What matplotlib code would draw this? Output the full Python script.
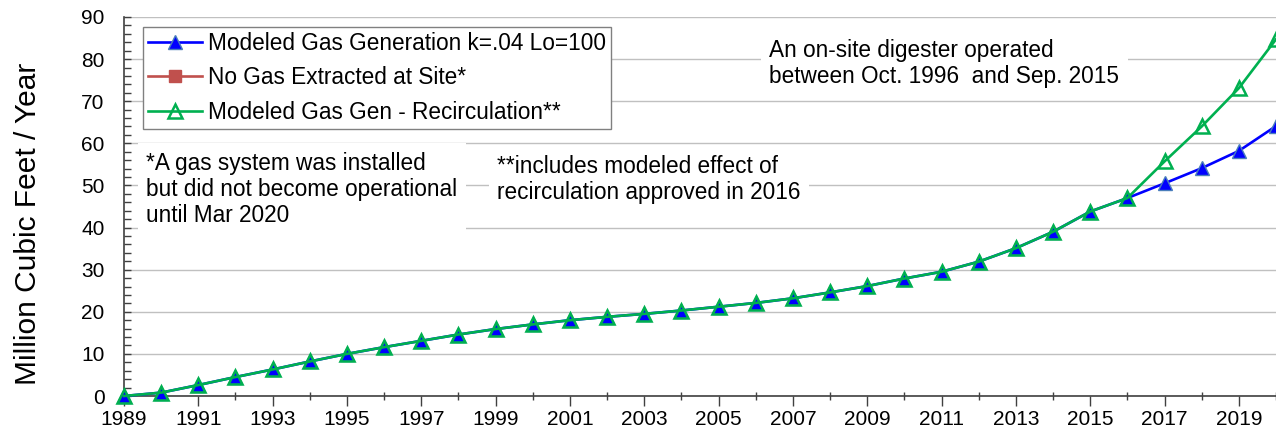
import matplotlib
matplotlib.use("Agg")
import matplotlib.pyplot as plt
from matplotlib.ticker import MultipleLocator

plt.rcParams['font.family'] = ['Liberation Sans', 'DejaVu Sans']

years = list(range(1989, 2021))
modeled = [0.0, 0.8, 2.6, 4.5, 6.3, 8.2, 10.0, 11.6, 13.1, 14.6, 15.9, 17.0,
           18.0, 18.8, 19.5, 20.3, 21.2, 22.1, 23.2, 24.6, 26.1, 27.9, 29.5,
           31.9, 35.1, 39.0, 43.8, 47.0, 50.5, 54.1, 58.2, 64.1]
no_gas_years = []
no_gas = []
recirc = [0.0, 0.8, 2.6, 4.5, 6.3, 8.2, 10.0, 11.6, 13.1, 14.6, 15.9, 17.0,
          18.0, 18.8, 19.5, 20.3, 21.2, 22.1, 23.2, 24.6, 26.1, 27.9, 29.5,
          31.9, 35.1, 39.0, 43.8, 47.0, 55.7, 64.0, 73.1, 84.7]
xtick_labels = [str(y) for y in range(1989, 2020, 2)]

labels = ["Modeled Gas Generation k=.04 Lo=100",
          "No Gas Extracted at Site*",
          "Modeled Gas Gen - Recirculation**"]

fig = plt.figure(figsize=(12.76, 4.34), dpi=100)
ax = fig.add_axes([124/1276, 38/434, 1152/1276, 379/434])

ax.plot(years, modeled, color='#0000FF', lw=1.9, marker='^', ms=10,
        mfc='#0000FF', mec='#4a7ebb', mew=1.0, label=labels[0],
        clip_on=False, zorder=3)
ax.plot(no_gas_years, no_gas, color='#C0504D', lw=1.9, marker='s', ms=8,
        mfc='#C0504D', mec='#C0504D', label=labels[1], zorder=3)
ax.plot(years, recirc, color='#00B050', lw=1.9, marker='^', ms=10,
        mfc='none', mec='#00B050', mew=1.8, label=labels[2],
        clip_on=False, zorder=4)

ax.set_xlim(1989, 2020)
ax.set_ylim(0, 90)
ax.xaxis.set_minor_locator(MultipleLocator(1))
ax.set_xticks(range(1989, 2020, 2))
ax.set_xticklabels(xtick_labels)
ax.yaxis.set_major_locator(MultipleLocator(10))
ax.yaxis.set_minor_locator(MultipleLocator(2))

ax.tick_params(axis='x', which='major', direction='out', length=7, width=1,
               labelsize=15, pad=3, color='#404040')
ax.tick_params(axis='x', which='minor', direction='inout', length=6, width=1,
               color='#404040')
ax.tick_params(axis='y', which='both', direction='in', length=5, width=1,
               labelsize=15, pad=14, color='#404040')

for s in ['top', 'right']:
    ax.spines[s].set_visible(False)
for s in ['left', 'bottom']:
    ax.spines[s].set_color('#404040')
    ax.spines[s].set_linewidth(1.2)

ax.grid(axis='y', which='major', color='#C0C0C0', lw=1.0)
ax.set_axisbelow(True)

ax.set_ylabel("Million Cubic Feet / Year", fontsize=21.5, labelpad=18)
ax.yaxis.set_label_coords(-0.071, 0.455)

leg = ax.legend(loc='upper left', bbox_to_anchor=(0.0165, 0.9736),
                borderaxespad=0, fontsize=16.3, frameon=True, fancybox=False,
                framealpha=1, edgecolor='#808080', handlelength=2.4,
                handletextpad=0.25, labelspacing=0.5, borderpad=0.22)
leg.get_frame().set_linewidth(1.0)
leg.set_zorder(6)

box = dict(facecolor='white', edgecolor='none', pad=6)
ax.text(1989.6, 58.0, "*A gas system was installed\nbut did not become operational\nuntil Mar 2020",
        fontsize=16.3, va='top', ha='left', linespacing=1.16, bbox=box, zorder=5)
ax.text(1999.05, 57.2, "**includes modeled effect of\nrecirculation approved in 2016",
        fontsize=16.3, va='top', ha='left', linespacing=1.16, bbox=box, zorder=5)
ax.text(2006.37, 84.7, "An on-site digester operated\nbetween Oct. 1996  and Sep. 2015",
        fontsize=16.3, va='top', ha='left', linespacing=1.16, bbox=box, zorder=5)

fig.savefig("out.png", dpi=100)
